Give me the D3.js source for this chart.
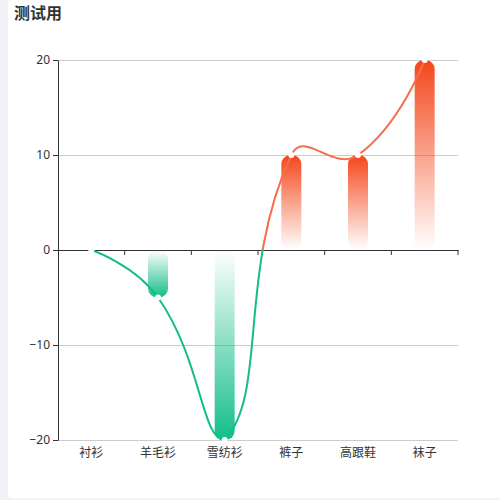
<!doctype html>
<html>
<head>
  <meta charset="utf8"/>
  <style>
    body { margin: 0; background: #f1f2f7; }
    svg { display: block; font-family: "Noto Sans CJK SC", "Noto Sans", sans-serif; }
  </style>
</head>
<body>
  <svg width='500' height='500'></svg>
  <script src="https://d3js.org/d3.v7.min.js"></script>
  <script>
    // chart data
    var categories = ['衬衫', '羊毛衫', '雪纺衫', '裤子', '高跟鞋', '袜子'];
    var values = [0, -5, -20, 10, 10, 20];
    var yTicks = [-20, -10, 0, 10, 20];

    var posColor = '#f4461b',
        negColor = '#13bd89',
        linePos = '#f36f4c',
        lineNeg = '#13bd89';

    var svg = d3.select('svg');

    // white card
    svg.append('rect')
       .attr('x', 8).attr('y', 0)
       .attr('width', 500).attr('height', 498)
       .attr('rx', 4)
       .attr('fill', '#fff');

    svg.append('text')
       .attr('x', 14).attr('y', 19)
       .attr('font-size', 16)
       .attr('font-weight', 'bold')
       .attr('fill', '#333')
       .text('测试用');

    var x = d3.scaleBand().domain(categories).range([58, 458]);
    var y = d3.scaleLinear().domain([-20, 20]).range([440, 60]);

    var defs = svg.append('defs');

    // gridlines
    svg.append('g')
       .selectAll('line')
       .data(yTicks.filter(function(d) { return d !== 0; }))
       .enter().append('line')
       .attr('x1', 58).attr('x2', 458)
       .attr('y1', function(d) { return y(d); })
       .attr('y2', function(d) { return y(d); })
       .attr('stroke', '#cccccc')
       .attr('stroke-width', 1)
       .attr('shape-rendering', 'crispEdges');

    // y axis
    var yAxis = svg.append('g')
       .attr('transform', 'translate(58,0)')
       .call(d3.axisLeft(y).tickValues(yTicks).tickSize(5).tickSizeOuter(0));
    yAxis.select('.domain').attr('stroke', '#333');
    yAxis.selectAll('.tick line').attr('stroke', '#333');
    yAxis.selectAll('.tick text')
         .attr('font-size', 12)
         .attr('fill', '#333')
         .attr('x', -8)
         .style('font-family', '"Noto Sans", sans-serif');

    // x axis on zero
    var xAxis = svg.append('g')
       .attr('transform', 'translate(0,' + y(0) + ')')
       .call(d3.axisBottom(x).tickSize(5).tickSizeOuter(0).tickFormat(''));
    xAxis.select('.domain').attr('stroke', '#333');
    // ticks on band boundaries
    xAxis.selectAll('.tick').remove();
    xAxis.selectAll('line.bt')
         .data(categories)
         .enter().append('line')
         .attr('class', 'bt')
         .attr('x1', function(d) { return x(d) + x.bandwidth(); })
         .attr('x2', function(d) { return x(d) + x.bandwidth(); })
         .attr('y1', 0).attr('y2', 5)
         .attr('stroke', '#333');

    // category labels at bottom
    svg.append('g')
       .selectAll('text')
       .data(categories)
       .enter().append('text')
       .attr('x', function(d) { return x(d) + x.bandwidth() / 2; })
       .attr('y', 457)
       .attr('text-anchor', 'middle')
       .attr('font-size', 12)
       .attr('fill', '#333')
       .text(function(d) { return d; });

    // bar gradients
    values.forEach(function(v, i) {
      var g = defs.append('linearGradient')
                  .attr('id', 'bar' + i)
                  .attr('x1', 0).attr('y1', 0).attr('x2', 0).attr('y2', 1);
      var c = v >= 0 ? posColor : negColor;
      g.append('stop').attr('offset', 0).attr('stop-color', c)
       .attr('stop-opacity', v >= 0 ? 1 : 0);
      g.append('stop').attr('offset', 1).attr('stop-color', c)
       .attr('stop-opacity', v >= 0 ? 0 : 1);
    });

    var bw = 20;
    svg.append('g')
       .selectAll('rect')
       .data(values)
       .enter().append('rect')
       .attr('x', function(d, i) { return x(categories[i]) + x.bandwidth() / 2 - bw / 2; })
       .attr('y', function(d) { return Math.min(y(d), y(0)); })
       .attr('width', bw)
       .attr('height', function(d) { return Math.abs(y(d) - y(0)); })
       .attr('rx', 9)
       .attr('fill', function(d, i) { return 'url(#bar' + i + ')'; });

    // line gradient split at zero
    var lg = defs.append('linearGradient')
                 .attr('id', 'lineGrad')
                 .attr('gradientUnits', 'userSpaceOnUse')
                 .attr('x1', 0).attr('x2', 0)
                 .attr('y1', y(20)).attr('y2', y(-20));
    var zOff = (y(0) - y(20)) / (y(-20) - y(20));
    lg.append('stop').attr('offset', 0).attr('stop-color', linePos);
    lg.append('stop').attr('offset', zOff).attr('stop-color', linePos);
    lg.append('stop').attr('offset', zOff).attr('stop-color', lineNeg);
    lg.append('stop').attr('offset', 1).attr('stop-color', lineNeg);

    // smoothed line, control points kept inside the points' bounding box
    var pts = values.map(function(v, i) {
      return [x(categories[i]) + x.bandwidth() / 2, y(v)];
    });
    var xMin = d3.min(pts, function(d) { return d[0]; }),
        xMax = d3.max(pts, function(d) { return d[0]; }),
        yMin = d3.min(pts, function(d) { return d[1]; }),
        yMax = d3.max(pts, function(d) { return d[1]; });
    function clamp(c) {
      return [Math.max(xMin, Math.min(xMax, c[0])), Math.max(yMin, Math.min(yMax, c[1]))];
    }
    var smooth = 0.5;
    var cps = pts.map(function(pt, i) {
      if (i === 0 || i === pts.length - 1) return { before: pt, after: pt };
      var prev = pts[i - 1], next = pts[i + 1];
      var dx = next[0] - prev[0], dy = next[1] - prev[1];
      var l0 = Math.hypot(pt[0] - prev[0], pt[1] - prev[1]);
      var l1 = Math.hypot(next[0] - pt[0], next[1] - pt[1]);
      var r = l1 / (l0 + l1);
      return {
        before: clamp([pt[0] - dx * smooth * (1 - r), pt[1] - dy * smooth * (1 - r)]),
        after: clamp([pt[0] + dx * smooth * r, pt[1] + dy * smooth * r])
      };
    });
    var p = d3.path();
    p.moveTo(pts[0][0], pts[0][1]);
    for (var i = 1; i < pts.length; i++) {
      var a = cps[i - 1].after, b = cps[i].before;
      p.bezierCurveTo(a[0], a[1], b[0], b[1], pts[i][0], pts[i][1]);
    }
    svg.append('path')
       .attr('d', p.toString())
       .attr('fill', 'none')
       .attr('stroke', 'url(#lineGrad)')
       .attr('stroke-width', 2);

    // point symbols
    svg.append('g')
       .selectAll('circle')
       .data(values)
       .enter().append('circle')
       .attr('cx', function(d, i) { return pts[i][0]; })
       .attr('cy', function(d) { return y(d); })
       .attr('r', 3)
       .attr('fill', '#fff');
  </script>
</body>
</html>
